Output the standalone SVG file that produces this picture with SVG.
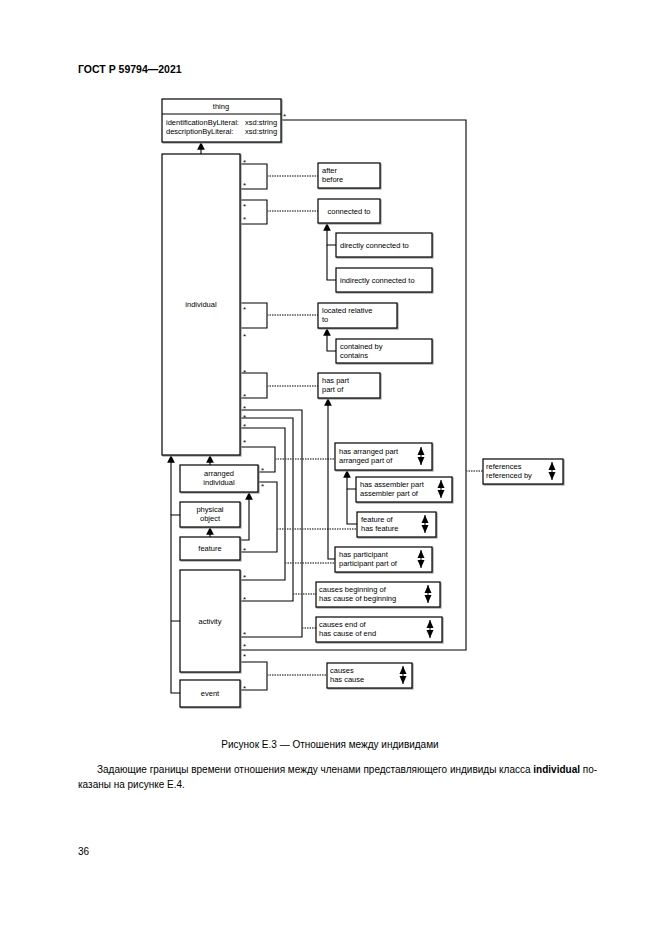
<svg xmlns="http://www.w3.org/2000/svg" width="661" height="935" viewBox="0 0 661 935">
<defs>
<marker id="ar" viewBox="0 0 8 8" refX="7" refY="4" markerWidth="7" markerHeight="7" orient="auto"><path d="M0,0 L8,4 L0,8 z" fill="#000"/></marker>
<g id="ud"><path d="M0,-9 L-3.5,-1 L3.5,-1 z M0,9 L-3.5,1 L3.5,1 z" fill="#000"/><line x1="0" y1="-9" x2="0" y2="9" stroke="#000"/></g>
</defs>
<style>
text{font-family:"Liberation Sans",Arial,sans-serif;font-size:7.5px;fill:#000}
.b{fill:#fff;stroke:#000;stroke-width:1.2;filter:drop-shadow(1.5px 1.5px 0 #999)}
.l{fill:none;stroke:#000;stroke-width:1.1}
.d{fill:none;stroke:#555;stroke-width:1.6;stroke-dasharray:1.5 1}
.s{font-size:8px}
.h{font-size:10.5px;font-weight:bold}
.p{font-size:10px}
</style>
<rect width="661" height="935" fill="#fff"/>
<text class="h" x="78" y="73">ГОСТ Р 59794—2021</text>

<g id="connectors">
<path class="l" d="M281,120 H466 V650 H240"/>
<line class="d" x1="466" y1="471" x2="483" y2="471"/>
<path class="l" d="M240,164 H267 V189 H240"/><line class="d" x1="267" y1="176" x2="318" y2="176"/>
<path class="l" d="M240,200 H267 V224 H240"/><line class="d" x1="267" y1="211" x2="318" y2="211"/>
<path class="l" d="M240,303 H267 V328 H240"/><line class="d" x1="267" y1="315" x2="318" y2="315"/>
<path class="l" d="M240,373 H267 V398 H240"/><line class="d" x1="267" y1="386" x2="318" y2="386"/>
<path class="l" d="M240,410 H302 V637 H240"/><line class="d" x1="302" y1="628" x2="316" y2="628"/>
<path class="l" d="M240,418 H293 V601 H240"/><line class="d" x1="293" y1="594" x2="316" y2="594"/>
<path class="l" d="M240,428 H285 V580 H240"/><line class="d" x1="285" y1="563" x2="335" y2="563"/>
<path class="l" d="M240,447 H275 V472 H258"/><line class="d" x1="275" y1="459" x2="335" y2="459"/>
<path class="l" d="M258,482 H277 V552 H240"/><line class="d" x1="277" y1="529" x2="357" y2="529"/>
<path class="l" d="M240,662 H267 V690 H240"/><line class="d" x1="267" y1="675" x2="327" y2="675"/>
<line class="l" x1="201" y1="154" x2="201" y2="143" marker-end="url(#ar)"/>
<path class="l" d="M180,515 H171 V693 H180 M171,621 H180"/>
<line class="l" x1="171" y1="515" x2="171" y2="456" marker-end="url(#ar)"/>
<line class="l" x1="210" y1="465" x2="210" y2="456" marker-end="url(#ar)"/>
<line class="l" x1="210" y1="537" x2="210" y2="528" marker-end="url(#ar)"/>
<path class="l" d="M240,540 H249 V493" marker-end="url(#ar)"/>
<path class="l" d="M336,245 H327 V224" marker-end="url(#ar)"/><path class="l" d="M336,280 H327 V245"/>
<path class="l" d="M336,351 H327 V329" marker-end="url(#ar)"/>
<path class="l" d="M335,559 H328 V399" marker-end="url(#ar)"/>
<path class="l" d="M356,489 H347 V471" marker-end="url(#ar)"/><path class="l" d="M357,524 H347 V489"/>
</g>

<g id="stars">
<text class="s" x="283" y="119">*</text>
<text class="s" x="243" y="165">*</text><text class="s" x="243" y="188">*</text>
<text class="s" x="243" y="209">*</text><text class="s" x="243" y="222">*</text>
<text class="s" x="243" y="312">*</text><text class="s" x="243" y="339">*</text>
<text class="s" x="243" y="375">*</text><text class="s" x="243" y="399">*</text>
<text class="s" x="243" y="411">*</text><text class="s" x="243" y="420">*</text><text class="s" x="243" y="429">*</text><text class="s" x="243" y="445">*</text>
<text class="s" x="261" y="473">*</text><text class="s" x="261" y="489">*</text>
<text class="s" x="243" y="553">*</text>
<text class="s" x="243" y="580">*</text><text class="s" x="243" y="602">*</text><text class="s" x="243" y="637">*</text><text class="s" x="243" y="649">*</text><text class="s" x="243" y="659">*</text>
<text class="s" x="243" y="691">*</text>
</g>

<g id="thing"><rect class="b" x="162" y="99" width="119" height="43"/><line class="l" x1="162" y1="114" x2="281" y2="114"/>
<text x="221" y="109" text-anchor="middle">thing</text>
<text x="166" y="125">identificationByLiteral:</text><text x="245" y="125">xsd:string</text>
<text x="166" y="134">descriptionByLiteral:</text><text x="245" y="134">xsd:string</text></g>
<g id="individual"><rect class="b" x="162" y="154" width="78" height="301"/><text x="201" y="307" text-anchor="middle">individual</text></g>
<g id="arranged"><rect class="b" x="180" y="465" width="78" height="27"/><text x="219" y="476" text-anchor="middle">arranged</text><text x="219" y="485" text-anchor="middle">individual</text></g>
<g id="physical"><rect class="b" x="180" y="502" width="60" height="25"/><text x="210" y="512" text-anchor="middle">physical</text><text x="210" y="521" text-anchor="middle">object</text></g>
<g id="feature"><rect class="b" x="180" y="537" width="60" height="23"/><text x="210" y="551" text-anchor="middle">feature</text></g>
<g id="activity"><rect class="b" x="180" y="570" width="60" height="102"/><text x="210" y="624" text-anchor="middle">activity</text></g>
<g id="event"><rect class="b" x="180" y="680" width="60" height="27"/><text x="210" y="696" text-anchor="middle">event</text></g>

<g id="after"><rect class="b" x="318" y="163" width="62" height="25"/><text x="322" y="173">after</text><text x="322" y="182">before</text></g>
<g id="connected"><rect class="b" x="318" y="199" width="62" height="24"/><text x="349" y="214" text-anchor="middle">connected to</text></g>
<g id="directly"><rect class="b" x="336" y="233" width="96" height="24"/><text x="340" y="248">directly connected to</text></g>
<g id="indirectly"><rect class="b" x="336" y="268" width="96" height="24"/><text x="340" y="283">indirectly connected to</text></g>
<g id="located"><rect class="b" x="318" y="303" width="79" height="25"/><text x="322" y="313">located relative</text><text x="322" y="322">to</text></g>
<g id="contained"><rect class="b" x="336" y="339" width="96" height="24"/><text x="340" y="349">contained by</text><text x="340" y="358">contains</text></g>
<g id="haspart"><rect class="b" x="318" y="373" width="62" height="25"/><text x="322" y="383">has part</text><text x="322" y="392">part of</text></g>
<g id="hasarranged"><rect class="b" x="335" y="443" width="97" height="27"/><text x="339" y="454">has arranged part</text><text x="339" y="463">arranged part of</text><use href="#ud" x="421" y="456"/></g>
<g id="assembler"><rect class="b" x="356" y="477" width="96" height="25"/><text x="360" y="487">has assembler part</text><text x="360" y="496">assembler part of</text><use href="#ud" x="441" y="489"/></g>
<g id="featureof"><rect class="b" x="357" y="512" width="79" height="25"/><text x="361" y="522">feature of</text><text x="361" y="531">has feature</text><use href="#ud" x="425" y="524"/></g>
<g id="participant"><rect class="b" x="335" y="547" width="97" height="25"/><text x="339" y="557">has participant</text><text x="339" y="566">participant part of</text><use href="#ud" x="421" y="559"/></g>
<g id="beginning"><rect class="b" x="316" y="582" width="124" height="25"/><text x="319" y="592">causes beginning of</text><text x="319" y="601">has cause of beginning</text><use href="#ud" x="428" y="594"/></g>
<g id="end"><rect class="b" x="316" y="617" width="126" height="25"/><text x="319" y="627">causes end of</text><text x="319" y="636">has cause of end</text><use href="#ud" x="430" y="629"/></g>
<g id="references"><rect class="b" x="483" y="459" width="80" height="25"/><text x="486" y="469">references</text><text x="486" y="478">referenced by</text><use href="#ud" x="552" y="471"/></g>
<g id="causes"><rect class="b" x="327" y="663" width="85" height="25"/><text x="330" y="673">causes</text><text x="330" y="682">has cause</text><use href="#ud" x="403" y="675"/></g>

<text class="p" x="330" y="748" text-anchor="middle">Рисунок Е.3 — Отношения между индивидами</text>
<text class="p" x="97" y="773">Задающие границы времени отношения между членами представляющего индивиды класса <tspan font-weight="bold">individual</tspan> по-</text>
<text class="p" x="78" y="788">казаны на рисунке Е.4.</text>
<text class="p" x="78" y="855">36</text>
</svg>
